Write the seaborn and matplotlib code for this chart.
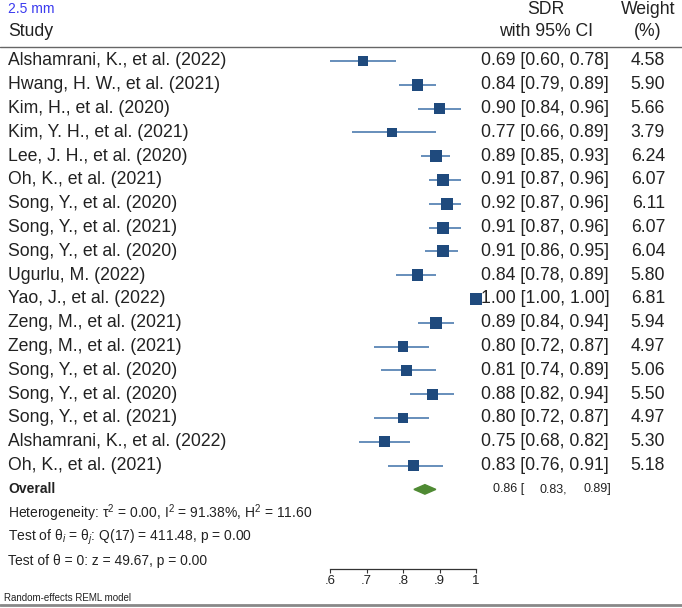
# forest plot: SDR at 2.5 mm, random-effects REML

import numpy as np
import pandas as pd
import matplotlib
matplotlib.use("Agg")
import matplotlib.pyplot as plt
import matplotlib.transforms as mtransforms
from matplotlib.lines import Line2D
import seaborn as sns

studies = [
    "Alshamrani, K., et al. (2022)", "Hwang, H. W., et al. (2021)",
    "Kim, H., et al. (2020)", "Kim, Y. H., et al. (2021)",
    "Lee, J. H., et al. (2020)", "Oh, K., et al. (2021)",
    "Song, Y., et al. (2020)", "Song, Y., et al. (2021)",
    "Song, Y., et al. (2020)", "Ugurlu, M. (2022)",
    "Yao, J., et al. (2022)", "Zeng, M., et al. (2021)",
    "Zeng, M., et al. (2021)", "Song, Y., et al. (2020)",
    "Song, Y., et al. (2020)", "Song, Y., et al. (2021)",
    "Alshamrani, K., et al. (2022)", "Oh, K., et al. (2021)",
]
sdr = [0.69, 0.84, 0.90, 0.77, 0.89, 0.91, 0.92, 0.91, 0.91,
       0.84, 1.00, 0.89, 0.80, 0.81, 0.88, 0.80, 0.75, 0.83]
ci_low = [0.60, 0.79, 0.84, 0.66, 0.85, 0.87, 0.87, 0.87, 0.86,
          0.78, 1.00, 0.84, 0.72, 0.74, 0.82, 0.72, 0.68, 0.76]
ci_high = [0.78, 0.89, 0.96, 0.89, 0.93, 0.96, 0.96, 0.96, 0.95,
           0.89, 1.00, 0.94, 0.87, 0.89, 0.94, 0.87, 0.82, 0.91]
weights = [4.58, 5.90, 5.66, 3.79, 6.24, 6.07, 6.11, 6.07, 6.04,
           5.80, 6.81, 5.94, 4.97, 5.06, 5.50, 4.97, 5.30, 5.18]

overall = (0.86, 0.83, 0.89)
stats_lines = [
    "Heterogeneity: τ$^2$ = 0.00, I$^2$ = 91.38%, H$^2$ = 11.60",
    "Test of θ$_i$ = θ$_j$: Q(17) = 411.48, p = 0.00",
    "Test of θ = 0: z = 49.67, p = 0.00",
]
xticks = [0.6, 0.7, 0.8, 0.9, 1.0]
xtick_labels = [".6", ".7", ".8", ".9", "1"]

df = pd.DataFrame({"study": studies, "sdr": sdr, "lo": ci_low,
                   "hi": ci_high, "weight": weights})
df["row"] = np.arange(len(df))

sns.set_style("white")
plt.rcParams["font.family"] = ["Liberation Sans", "DejaVu Sans"]
plt.rcParams["mathtext.fontset"] = "custom"
plt.rcParams["mathtext.rm"] = "Liberation Sans"
plt.rcParams["mathtext.it"] = "Liberation Sans:italic"

W, H = 682, 608
fig = plt.figure(figsize=(W / 100, H / 100), dpi=100)

# plot area: x 0.6 -> px 330, 1.0 -> px 476; rows start at px 61, step 23.8
row0, step, axis_px = 61, 23.8, 569
ax = fig.add_axes([330 / W, 1 - axis_px / H, 146 / W, axis_px / H])
ax.set_xlim(0.6, 1.0)
ax.set_ylim((axis_px - row0) / step, -row0 / step)

text_col = "#222222"
fs = 12.7
ax.hlines(df["row"], df["lo"], df["hi"], color="#5b86b5", lw=1.3,
          clip_on=False, zorder=2)
sns.scatterplot(data=df, x="sdr", y="row", size="weight",
                sizes=(min(weights) * 12, max(weights) * 12),
                size_norm=(min(weights), max(weights)),
                marker="s", color="#1f4a7d", edgecolor="none",
                legend=False, ax=ax, clip_on=False, zorder=3)

# overall diamond
n = len(df)
est, lo, hi = overall
ax.fill([lo, est, hi, est], [n, n - 0.2, n, n + 0.2], color="#4f8a33",
        clip_on=False, zorder=3)

ax.set_xticks(xticks)
ax.set_xticklabels(xtick_labels, fontsize=9.5, color=text_col)
ax.set_yticks([])
ax.set_xlabel("")
ax.set_ylabel("")
for side in ["left", "top", "right"]:
    ax.spines[side].set_visible(False)
ax.spines["bottom"].set_color("#333333")
ax.spines["bottom"].set_linewidth(0.9)
ax.tick_params(axis="x", direction="out", length=3, width=0.8, pad=1,
               bottom=True, color="#333333")

trans = mtransforms.blended_transform_factory(fig.transFigure, ax.transData)

def px(x):
    return x / W

# header
fig.text(px(8), 1 - 9 / H, "2.5 mm", color="#3b3bef", fontsize=10, va="center")
fig.text(px(8), 1 - 31 / H, "Study", color=text_col, fontsize=fs, va="center")
fig.text(px(546), 1 - 9 / H, "SDR", color=text_col, fontsize=fs,
         va="center", ha="center")
fig.text(px(546), 1 - 31 / H, "with 95% CI", color=text_col, fontsize=fs,
         va="center", ha="center")
fig.text(px(648), 1 - 9 / H, "Weight", color=text_col, fontsize=fs,
         va="center", ha="center")
fig.text(px(648), 1 - 31 / H, "(%)", color=text_col, fontsize=fs,
         va="center", ha="center")
fig.add_artist(Line2D([0, 1], [1 - 47 / H] * 2, transform=fig.transFigure,
                      color="#666666", lw=1))

for r in df.itertuples():
    ax.text(px(8), r.row, r.study, transform=trans, fontsize=fs,
            color=text_col, va="center")
    ax.text(px(481), r.row, f"{r.sdr:.2f} [{r.lo:.2f}, {r.hi:.2f}]",
            transform=trans, fontsize=fs, color=text_col, va="center",
            zorder=1)
    ax.text(px(665), r.row, f"{r.weight:.2f}", transform=trans, fontsize=fs,
            color=text_col, va="center", ha="right")

ax.text(px(8), n, "Overall", transform=trans, fontsize=10, fontweight="bold",
        color=text_col, va="center")
ax.text(px(493), n, f"{est:.2f} [", transform=trans, fontsize=9,
        color=text_col, va="center")
ax.text(px(540), n, f"{lo:.2f},", transform=trans, fontsize=9,
        color=text_col, va="center")
ax.text(px(584), n, f"{hi:.2f}]", transform=trans, fontsize=9,
        color=text_col, va="center")
for i, line in enumerate(stats_lines):
    ax.text(px(8), n + 1 + i, line, transform=trans, fontsize=10,
            color=text_col, va="center")

fig.text(px(4), 1 - 598 / H, "Random-effects REML model", fontsize=7,
         color=text_col, va="center")
fig.add_artist(Line2D([0, 1], [1 - 605 / H] * 2, transform=fig.transFigure,
                      color="#888888", lw=2))

fig.savefig("out.png", dpi=100)
